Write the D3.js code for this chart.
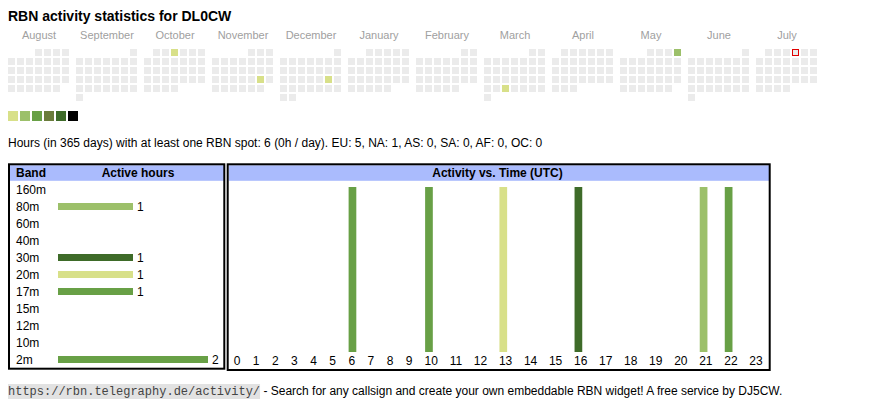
<!DOCTYPE html>
<html><head><meta charset="utf-8">
<script src="https://cdn.jsdelivr.net/npm/d3@7"></script>
<style>
html,body{margin:0;padding:0;background:#fff;}
svg{display:block;}
</style></head>
<body>
<svg id="chart" width="870" height="407"></svg>
<script>
// ---------- data ----------
const title = "RBN activity statistics for DL0CW";
const months = ["August","September","October","November","December","January","February","March","April","May","June","July"];
const monthStart = ["2024-08-01","2024-09-01","2024-10-01","2024-11-01","2024-12-01","2025-01-01","2025-02-01","2025-03-01","2025-04-01","2025-05-01","2025-06-01","2025-07-01"];
const activeDates = ["2024-10-03","2024-11-23","2024-12-21","2025-03-26","2025-05-04"];
const activeDateHours = [1,1,1,1,2];
const todayDate = "2025-07-04";
const levelColors = ["#d8e089","#9cc06a","#68a046","#6a7c3b","#3e6b29","#000000"];
const statsText = "Hours (in 365 days) with at least one RBN spot: 6 (0h / day). EU: 5, NA: 1, AS: 0, SA: 0, AF: 0, OC: 0";
const bands = ["160m","80m","60m","40m","30m","20m","17m","15m","12m","10m","2m"];
const bandHours = [0,1,0,0,1,1,1,0,0,0,2];
const bandColors = ["#68a046","#9cc06a","#68a046","#68a046","#3e6b29","#d8e089","#68a046","#68a046","#68a046","#68a046","#68a046"];
const hours = d3.range(0,24);
const hourActive = [0,0,0,0,0,0,1,0,0,0,1,0,0,1,0,0,1,0,0,0,0,1,1,0];
const hourColors = ["","","","","","","#68a046","","","","#68a046","","","#d8e089","","","#3e6b29","","","","","#9cc06a","#68a046",""];
const footLink = "https://rbn.telegraphy.de/activity/";
const footText = " - Search for any callsign and create your own embeddable RBN widget! A free service by DJ5CW.";

// ---------- drawing ----------
const svg = d3.select("#chart");
const SANS = "'Liberation Sans', Arial, Helvetica, sans-serif";

svg.append("text").attr("x",8).attr("y",21).attr("font-family",SANS)
  .attr("font-size",14).attr("font-weight","bold").attr("fill","#000").text(title);

// calendar
const monthX = d3.scaleLinear().domain([0,12]).range([8, 8+68*12]);
const colX = d3.scaleLinear().domain([0,7]).range([0,63]);
const rowY = d3.scaleLinear().domain([0,6]).range([49,49+54]);
const parse = d3.utcParse("%Y-%m-%d");
const activeMap = new Map(activeDates.map((d,i)=>[d,activeDateHours[i]]));
const levelColor = d3.scaleOrdinal().domain([1,2,3,4,5,6]).range(levelColors);
const fmt = d3.utcFormat("%Y-%m-%d");

months.forEach((m,i)=>{
  const start = parse(monthStart[i]);
  const end = d3.utcMonth.offset(start,1);
  const days = d3.utcDay.range(start,end);
  const firstCol = (start.getUTCDay()+6)%7;
  const g = svg.append("g");
  g.append("text").attr("x", monthX(i)+31).attr("y",39).attr("text-anchor","middle")
    .attr("font-family",SANS).attr("font-size",11).attr("fill","#a0a0a0").text(m);
  g.selectAll("rect").data(days).join("rect")
    .attr("x", d=>monthX(i)+colX((d.getUTCDay()+6)%7))
    .attr("y", d=>rowY(Math.floor((d.getUTCDate()-1+firstCol)/7)))
    .attr("width",7).attr("height",7)
    .attr("fill", d=>{const h=activeMap.get(fmt(d)); return h? levelColor(h) : "#ebebeb";});
  const today = days.filter(d=>fmt(d)===todayDate);
  g.selectAll("rect.today").data(today).join("rect").attr("class","today")
    .attr("x", d=>monthX(i)+colX((d.getUTCDay()+6)%7)+0.5)
    .attr("y", d=>rowY(Math.floor((d.getUTCDate()-1+firstCol)/7))+0.5)
    .attr("width",6).attr("height",6).attr("fill","#ebebeb").attr("stroke","#e00000").attr("stroke-width",1);
});

// legend swatches
const legX = d3.scaleLinear().domain([0,1]).range([8,20]);
svg.selectAll("rect.leg").data(levelColors).join("rect").attr("class","leg")
  .attr("x",(d,i)=>legX(i)).attr("y",111).attr("width",10).attr("height",10).attr("fill",d=>d);

svg.append("text").attr("x",8).attr("y",146.5).attr("font-family",SANS).attr("font-size",12)
  .attr("fill","#000").text(statsText);

// left table
const hdrFill = "#aabbfd";
svg.append("rect").attr("x",10).attr("y",165.3).attr("width",214).attr("height",15.5).attr("fill",hdrFill);
svg.append("rect").attr("x",9).attr("y",164.3).attr("width",215.3).attr("height",204.4)
  .attr("fill","none").attr("stroke","#000").attr("stroke-width",2);
svg.append("text").attr("x",16).attr("y",177).attr("font-family",SANS).attr("font-size",12)
  .attr("font-weight","bold").text("Band");
svg.append("text").attr("x",138).attr("y",177).attr("text-anchor","middle").attr("font-family",SANS)
  .attr("font-size",12).attr("font-weight","bold").text("Active hours");

const bandY = d3.scaleBand().domain(bands).range([181,368]);
const hx = d3.scaleLinear().domain([0,2]).range([58,208]);
const rows = svg.append("g").selectAll("g").data(bands).join("g");
rows.append("text").attr("x",16).attr("y",b=>bandY(b)+bandY.bandwidth()/2).attr("dy","0.36em")
  .attr("font-family",SANS).attr("font-size",12).text(b=>b);
const active = bands.map((b,i)=>({b,v:bandHours[i],c:bandColors[i]})).filter(d=>d.v>0);
svg.append("g").selectAll("rect").data(active).join("rect")
  .attr("x",hx(0)).attr("y",d=>bandY(d.b)+bandY.bandwidth()/2-3.5)
  .attr("width",d=>hx(d.v)-hx(0)).attr("height",7).attr("fill",d=>d.c);
svg.append("g").selectAll("text").data(active).join("text")
  .attr("x",d=>hx(d.v)+4).attr("y",d=>bandY(d.b)+bandY.bandwidth()/2).attr("dy","0.36em")
  .attr("font-family",SANS).attr("font-size",12).text(d=>d.v);

// right table
svg.append("rect").attr("x",228.7).attr("y",165.3).attr("width",541).attr("height",15.5).attr("fill",hdrFill);
svg.append("rect").attr("x",227.7).attr("y",164.3).attr("width",542).attr("height",205.7)
  .attr("fill","none").attr("stroke","#000").attr("stroke-width",2);
svg.append("text").attr("x",497.5).attr("y",177).attr("text-anchor","middle").attr("font-family",SANS)
  .attr("font-size",12).attr("font-weight","bold").text("Activity vs. Time (UTC)");

// hour cells: width proportional to label width + padding (like an auto table)
const hourLabels = svg.append("g").selectAll("text").data(hours).join("text")
  .attr("y",365.3).attr("text-anchor","middle").attr("font-family",SANS).attr("font-size",12).text(h=>h);
const tw = []; hourLabels.each(function(){ tw.push(this.getComputedTextLength()); });
const pad = 14.9;
const raw = tw.map(w=>w+pad);
const total = d3.sum(raw);
const innerL = 227.45, innerW = 541;
const k = innerW/total;
const lefts = []; let acc = innerL;
raw.forEach(w=>{ lefts.push(acc); acc += w*k; });
const cellLeft = d3.scaleOrdinal().domain(hours).range(lefts);
const cellW = d3.scaleOrdinal().domain(hours).range(raw.map(w=>w*k));
hourLabels.attr("x",h=>cellLeft(h)+cellW(h)/2);
const ty = d3.scaleLinear().domain([0,d3.max(hourActive)]).range([352,187]);
svg.append("g").selectAll("rect").data(hours.filter(h=>hourActive[h]>0)).join("rect")
  .attr("x",h=>cellLeft(h)+6.4)
  .attr("y",h=>ty(hourActive[h])).attr("width",7.7).attr("height",h=>ty(0)-ty(hourActive[h]))
  .attr("fill",h=>hourColors[h]);

// footer
const link = svg.append("text").attr("x",8).attr("y",395).attr("font-family","'Liberation Mono', 'DejaVu Sans Mono', monospace")
  .attr("font-size",12).attr("fill","#444").text(footLink);
const lw = link.node().getComputedTextLength();
svg.insert("rect","text").attr("x",8).attr("y",384).attr("width",lw).attr("height",15).attr("fill","#e2e2e2");
svg.append("text").attr("x",8+lw).attr("y",395).attr("font-family",SANS).attr("font-size",12)
  .attr("fill","#000").attr("xml:space","preserve").style("white-space","pre").text(footText);
</script>
</body></html>
